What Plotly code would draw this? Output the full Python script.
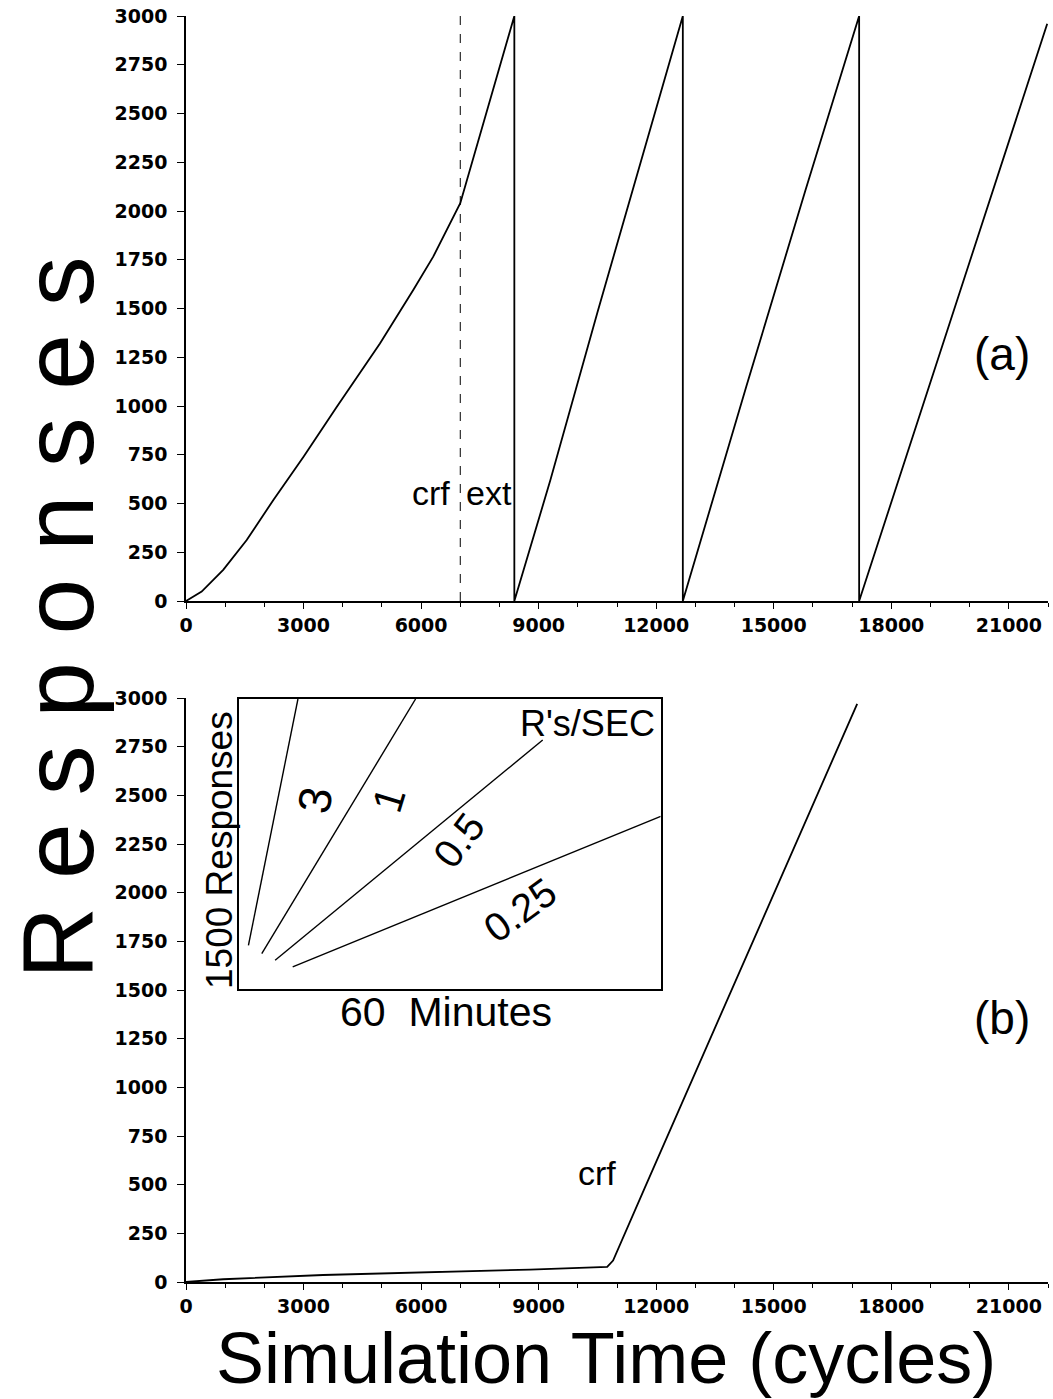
import plotly.graph_objects as go

W, H = 1053, 1399

# ---------------- data ----------------
# panel (a): cumulative responses, crf then extinction (resets at 3000)
a_x = [0, 400, 950, 1550, 2230, 3000, 3850, 4950, 5800, 6310, 7000, 8380, 8380,
       9300, 10500, 11600, 12680, 12680,
       13500, 14300, 15800, 17180, 17180,
       19500, 21980]
a_y = [0, 48, 160, 313, 518, 740, 996, 1321, 1595, 1766, 2040, 3000, 0,
       620, 1480, 2250, 3000, 0,
       560, 1100, 2100, 3000, 0,
       1432, 2960]
crf_ext_boundary = 7000

# panel (b)
b_x = [0, 950, 3500, 4950, 7080, 8780, 10750, 10900, 11700, 17130]
b_y = [0, 14, 36, 43, 52, 64, 78, 110, 480, 2970]

# inset: reference slopes (responses/sec) on a 60 min x 1500 response grid
inset_rates = ["3", "1", "0.5", "0.25"]
inset_x0 = [1.3, 3.2, 5.1, 7.6]
inset_y0 = [227, 184, 150, 116]
inset_x1 = [8.35, 25.1, 43.2, 60.0]
inset_y1 = [1500, 1500, 1288, 893]

x_ticks = [0, 3000, 6000, 9000, 12000, 15000, 18000, 21000]
y_ticks = [0, 250, 500, 750, 1000, 1250, 1500, 1750, 2000, 2250, 2500, 2750, 3000]

# ---------------- figure ----------------
def px(x):
    return x / W

def py(y):
    return 1 - y / H

fig = go.Figure()
LW = 1.8
fig.add_trace(go.Scatter(x=a_x, y=a_y, mode="lines", line=dict(color="black", width=LW),
                         xaxis="x", yaxis="y", showlegend=False))
fig.add_trace(go.Scatter(x=[crf_ext_boundary, crf_ext_boundary], y=[0, 3000], mode="lines",
                         line=dict(color="black", width=1, dash="dash"),
                         xaxis="x", yaxis="y", showlegend=False))
fig.add_trace(go.Scatter(x=b_x, y=b_y, mode="lines", line=dict(color="black", width=LW),
                         xaxis="x2", yaxis="y2", showlegend=False))
for i in range(len(inset_rates)):
    fig.add_trace(go.Scatter(x=[inset_x0[i], inset_x1[i]], y=[inset_y0[i], inset_y1[i]],
                             mode="lines", line=dict(color="black", width=1.4),
                             xaxis="x3", yaxis="y3", showlegend=False))

tickfont = dict(family="DejaVu Sans", size=19, color="black", weight="bold")
xdom = [px(186), px(1048)]

def xaxis_cfg(anchor):
    return dict(domain=xdom, range=[0, 22000], anchor=anchor, showline=True,
                linecolor="black", linewidth=1.5, ticks="outside", ticklen=6,
                tickwidth=1.2, tickcolor="black", tickvals=x_ticks,
                ticktext=[str(v) for v in x_ticks], tickfont=tickfont,
                ticklabeloverflow="allow",
                showgrid=False, zeroline=False, automargin=False,
                minor=dict(dtick=1000, tick0=0, ticks="outside", ticklen=4,
                           tickcolor="black", tickwidth=1, showgrid=False))

def yaxis_cfg(anchor, dom):
    return dict(domain=dom, range=[0, 3000], anchor=anchor, showline=True,
                linecolor="black", linewidth=1.5, ticks="outside", ticklen=7,
                tickwidth=1.2, tickcolor="black", tickvals=y_ticks,
                ticktext=[str(v) for v in y_ticks], tickfont=tickfont,
                ticklabelstandoff=6, ticklabeloverflow="allow",
                showgrid=False, zeroline=False, automargin=False)

fig.update_layout(
    template="none",
    width=W, height=H,
    margin=dict(l=0, r=0, t=0, b=0, pad=0),
    paper_bgcolor="white", plot_bgcolor="white",
    hovermode=False,
    xaxis=xaxis_cfg("y"),
    yaxis=yaxis_cfg("x", [py(601), py(16)]),
    xaxis2=xaxis_cfg("y2"),
    yaxis2=yaxis_cfg("x2", [py(1282), py(698)]),
    xaxis3=dict(domain=[px(239.3), px(660.7)], range=[0, 60], anchor="y3",
                showline=True, mirror=True, linecolor="black", linewidth=2,
                showticklabels=False, ticks="", showgrid=False, zeroline=False,
                automargin=False),
    yaxis3=dict(domain=[py(989.3), py(699)], range=[0, 1500], anchor="x3",
                showline=True, mirror=True, linecolor="black", linewidth=2,
                showticklabels=False, ticks="", showgrid=False, zeroline=False,
                automargin=False),
)

AR = "Liberation Sans, Arial, sans-serif"

def ann(text, x, y, size, angle=0, xanchor="center", yanchor="middle"):
    fig.add_annotation(text=text, x=px(x), y=py(y), xref="paper", yref="paper",
                       showarrow=False, textangle=angle, xanchor=xanchor, yanchor=yanchor,
                       font=dict(family=AR, size=size, color="black"))

ann("R e s p o n s e s", 58, 618, 100, angle=-90)
ann("Simulation Time (cycles)", 606, 1358, 72)
ann("(a)", 1002, 354, 46)
ann("(b)", 1002, 1018, 46)
ann("crf", 431, 493, 34)
ann("ext", 489, 493, 34)
ann("crf", 597, 1173, 34)

# inset labels
ann("R's/SEC", 587, 724, 36)
ann("60  Minutes", 446, 1012, 41)
ann("1500 Responses", 220, 850, 37, angle=-90)
ann("3", 315, 800, 46, angle=-80)
ann("1", 388, 800, 42, angle=-73)
ann("0.5", 459, 840, 40, angle=-53)
ann("0.25", 520, 910, 40, angle=-36)

# remove the default page margin so the figure sits at the window's top-left corner
fig.write_html("out.html",
               config={"displayModeBar": False},
               post_script="document.body.style.margin='0';document.body.style.padding='0';")
